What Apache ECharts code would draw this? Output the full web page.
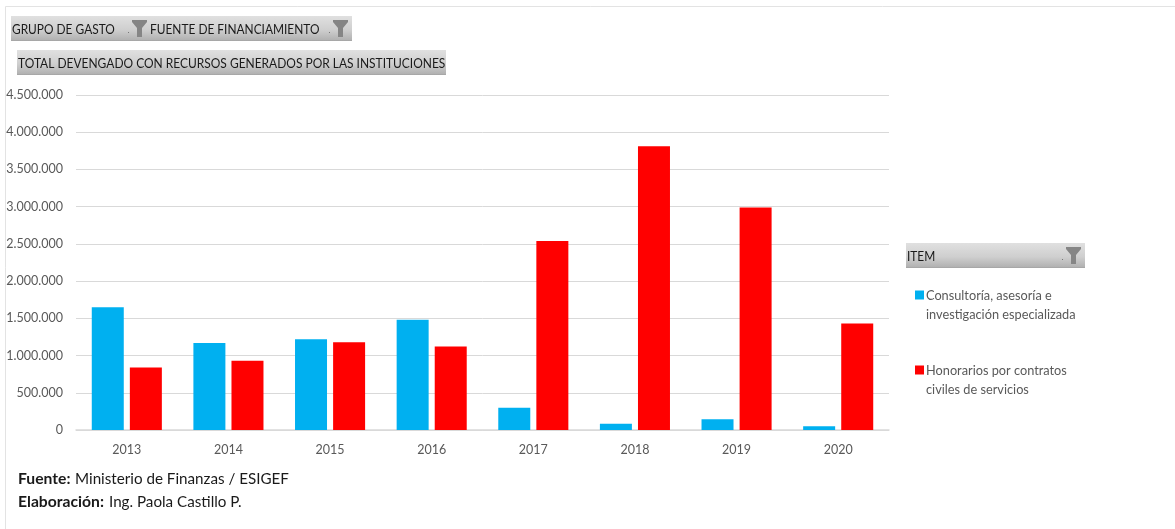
<!DOCTYPE html>
<html><head><meta charset="utf-8">
<style>html,body{margin:0;padding:0;background:#fff}#c{width:1175px;height:529px}</style>
<script src="https://cdn.jsdelivr.net/npm/echarts@6/dist/echarts.min.js"></script>
</head><body><div id="c"></div>
<script>
const years = ['2013','2014','2015','2016','2017','2018','2019','2020'];
const consultoria = [1650000,1170000,1220000,1480000,300000,85000,145000,50000];
const honorarios = [840000,930000,1180000,1120000,2540000,3810000,2990000,1430000];
const nameA = 'Consultoría, asesoría e\ninvestigación especializada';
const nameB = 'Honorarios por contratos\nciviles de servicios';
const font = 'Lato';
const chart = echarts.init(document.getElementById('c'));
const grad = {type:'linear',x:0,y:0,x2:0,y2:1,colorStops:[{offset:0,color:'#e0e0e0'},{offset:0.55,color:'#cfcfcf'},{offset:0.95,color:'#b2b2b2'},{offset:1,color:'#a0a0a0'}]};
function box(x,y,w,h){return {type:'rect',silent:true,shape:{x,y,width:w,height:h},style:{fill:grad}};}
function txt(x,y,t,size,weight,sx){return {type:'text',silent:true,x,y,scaleX:sx||1,style:{text:t,fontFamily:font,fontSize:size,fontWeight:weight||'normal',fill:'#1a1a1a',verticalAlign:'middle'}};}
function funnel(x,y){return {type:'polygon',silent:true,shape:{points:[[x,y],[x+15,y],[x+15,y+2],[x+10,y+8],[x+10,y+17],[x+5,y+17],[x+5,y+8],[x,y+2]]},style:{fill:'#858585'}};}
function dot(x,y){return {type:'rect',silent:true,shape:{x,y,width:1,height:1},style:{fill:'#777'}};}
const sx = 0.85;
chart.setOption({
  animation:false,
  backgroundColor:'#fff',
  grid:{left:76,right:286,top:95,bottom:99},
  legend:{
    orient:'vertical',left:910,top:281,itemWidth:9,itemHeight:29,itemGap:37,
    icon:'path://M0,0H9V9H0Z M0,29L0,29',
    align:'left',selectedMode:false,
    textStyle:{fontFamily:font,fontSize:12.75,color:'#595959',lineHeight:19,padding:[0,0,0,-3]},
    data:[nameA,nameB]
  },
  xAxis:{type:'category',data:years,
    axisLine:{lineStyle:{color:'#d9d9d9',width:1.5}},axisTick:{show:false},
    axisLabel:{fontFamily:font,fontSize:12.5,color:'#595959',margin:13}},
  yAxis:{type:'value',min:0,max:4500000,interval:500000,
    axisLine:{show:false},axisTick:{show:false},
    splitLine:{lineStyle:{color:'#d9d9d9',width:1}},
    axisLabel:{fontFamily:font,fontSize:12.5,color:'#595959',margin:13,
      formatter:v=>String(v).replace(/\B(?=(\d{3})+$)/g,'.')}},
  series:[
    {name:nameA,type:'bar',data:consultoria,barWidth:32,barGap:'19%',itemStyle:{color:'#00b0f0'}},
    {name:nameB,type:'bar',data:honorarios,barWidth:32,barGap:'19%',itemStyle:{color:'#ff0000'}}
  ],
  graphic:[
    {type:'polyline',silent:true,shape:{points:[[5.5,529],[5.5,6.5],[1175,6.5]]},style:{stroke:'#e3e3e3',lineWidth:1,fill:null}},
    box(11,16,341,25),box(17,50,429,25),box(906,243,179,25),
    funnel(132,20),funnel(333,20),funnel(1066,247),
    dot(128,32),dot(329,32),dot(1062,259),
    txt(12,29,'GRUPO DE GASTO',14,'normal',sx),txt(150,29,'FUENTE DE FINANCIAMIENTO',14,'normal',sx),
    txt(18,63,'TOTAL DEVENGADO CON RECURSOS GENERADOS POR LAS INSTITUCIONES',14,'normal',0.855),
    txt(907,256,'ITEM',14,'normal',sx),
    txt(18,479,'Fuente:',15.7,'bold'),
    txt(75,479,'Ministerio de Finanzas / ESIGEF',15.2),
    txt(18,502,'Elaboración:',15.7,'bold'),
    txt(109,502,'Ing. Paola Castillo P.',15.2)
  ]
});
</script></body></html>
